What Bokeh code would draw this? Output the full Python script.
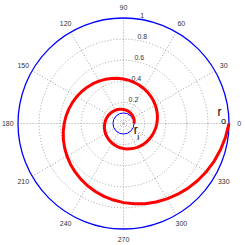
import math
from bokeh.plotting import figure
from bokeh.embed import file_html
from bokeh.resources import INLINE
from bokeh.core.properties import value

# ---- data ----
angle_ticks = [0, 30, 60, 90, 120, 150, 180, 210, 240, 270, 300, 330]
angle_labels = ["0", "30", "60", "90", "120", "150", "180", "210", "240", "270", "300", "330"]
radial_ticks = [0.2, 0.4, 0.6, 0.8, 1.0]
radial_labels = ["0.2", "0.4", "0.6", "0.8", "1"]
r_inner = 0.1
r_outer = 1.0
# spiral radius sampled every 7.5 degrees from 0 to 720 degrees
spiral_deg = [i * 7.5 for i in range(97)]
spiral_r = [0.100, 0.102, 0.105, 0.108, 0.110, 0.113, 0.115, 0.118, 0.121, 0.124,
            0.127, 0.130, 0.133, 0.137, 0.140, 0.143, 0.147, 0.150, 0.154, 0.158,
            0.162, 0.166, 0.170, 0.174, 0.178, 0.182, 0.187, 0.191, 0.196, 0.200,
            0.205, 0.210, 0.215, 0.221, 0.226, 0.232, 0.237, 0.243, 0.249, 0.255,
            0.261, 0.267, 0.274, 0.281, 0.287, 0.294, 0.301, 0.309, 0.316, 0.324,
            0.332, 0.340, 0.348, 0.357, 0.365, 0.374, 0.383, 0.392, 0.402, 0.412,
            0.422, 0.432, 0.442, 0.453, 0.464, 0.475, 0.487, 0.499, 0.511, 0.523,
            0.536, 0.549, 0.562, 0.576, 0.590, 0.604, 0.619, 0.634, 0.649, 0.665,
            0.681, 0.698, 0.715, 0.732, 0.750, 0.768, 0.787, 0.806, 0.825, 0.845,
            0.866, 0.887, 0.909, 0.931, 0.953, 0.976, 1.000]

W = H = 245
cx = cy = 123.0
R = 105.5
p = figure(width=W, height=H, output_backend="svg", toolbar_location=None,
           x_range=(-cx / R, (W - cx) / R), y_range=(-(H - cy) / R, cy / R),
           min_border=0, match_aspect=False)
p.axis.visible = False
p.grid.visible = False
p.outline_line_color = None
p.background_fill_color = "white"
p.border_fill_color = "white"

FONT = value("Liberation Sans")
GRID = "#a0a0a0"

# grid rings
p.circle(x=[0] * 4, y=[0] * 4, radius=radial_ticks[:-1], fill_color=None,
         line_color=GRID, line_dash="1 2", line_width=1)
# spokes
sx0, sy0, sx1, sy1 = [], [], [], []
for a in angle_ticks:
    t = math.radians(a)
    sx0.append(0); sy0.append(0)
    sx1.append(r_outer * math.cos(t)); sy1.append(r_outer * math.sin(t))
p.segment(x0=sx0, y0=sy0, x1=sx1, y1=sy1, line_color=GRID, line_dash="1 2", line_width=1)

# outer and inner blue circles
p.circle(x=[0], y=[0], radius=[r_outer], fill_color=None, line_color="blue", line_width=1.3)
p.circle(x=[0], y=[0], radius=[r_inner], fill_color=None, line_color="blue", line_width=1)

# spiral
xs = [r * math.cos(math.radians(d)) for r, d in zip(spiral_r, spiral_deg)]
ys = [r * math.sin(math.radians(d)) for r, d in zip(spiral_r, spiral_deg)]
p.line(xs, ys, line_color="red", line_width=3, line_join="round")

# angle labels
rt = 1.097
ax = [rt * math.cos(math.radians(a)) for a in angle_ticks]
ay = [rt * math.sin(math.radians(a)) for a in angle_ticks]
p.text(x=ax, y=ay, text=angle_labels, text_align="center", text_baseline="middle",
       text_font=FONT, text_font_size="7px", text_color="#333333")

# radial labels at 82 degrees
c82 = math.cos(math.radians(82)); s82 = math.sin(math.radians(82))
rx = [(r + 0.01) * c82 for r in radial_ticks]
ry = [(r + 0.01) * s82 for r in radial_ticks]
p.text(x=rx, y=ry, text=radial_labels, text_align="left", text_baseline="bottom",
       x_offset=2, y_offset=0, text_font=FONT, text_font_size="7px", text_color="#333333")

# r_o and r_i annotations
p.text(x=[0.91, 0.116], y=[0.107, -0.064], text=["r", "r"], text_align="center",
       text_baseline="middle", text_font=FONT, text_font_size="12px", text_color="black")
p.text(x=[0.948, 0.139], y=[0.028, -0.126], text=["o", "i"], text_align="center",
       text_baseline="middle", text_font=FONT, text_font_size="9px", text_color="black")

open("out.html", "w").write(file_html(p, INLINE))
